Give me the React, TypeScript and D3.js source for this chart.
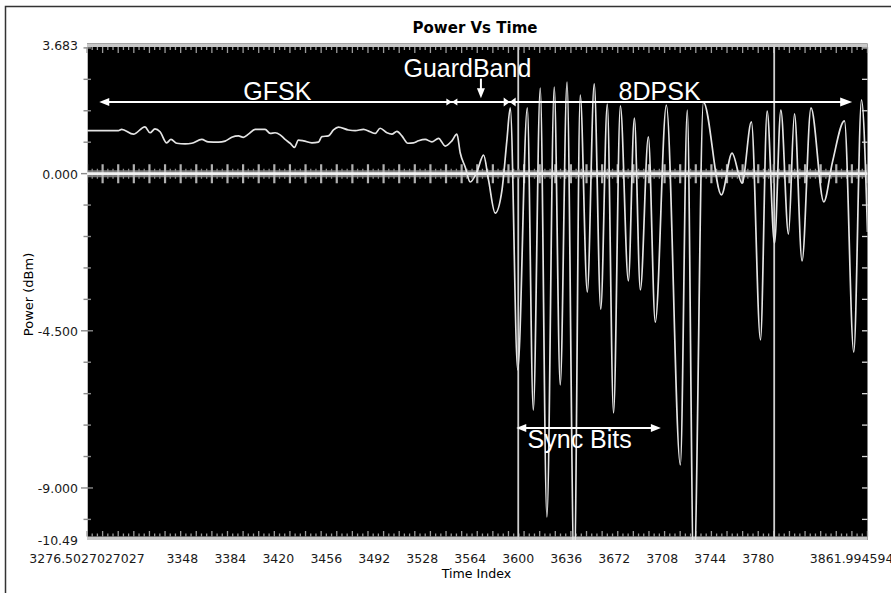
import React from 'react';
import * as d3 from 'd3';

const W = 891;
const H = 593;

const X_MIN = 3276.5027027027;
const X_MAX = 3861.9945945946;
const Y_MIN = -10.49;
const Y_MAX = 3.683;

const xTickValues = [X_MIN, 3348, 3384, 3420, 3456, 3492, 3528, 3564, 3600, 3636, 3672, 3708, 3744, 3780, X_MAX];
const xTickLabels = ['3276.5027027027', '3348', '3384', '3420', '3456', '3492', '3528', '3564', '3600', '3636', '3672', '3708', '3744', '3780', '3861.9945945946'];
const yTickValues = [Y_MAX, 0, -4.5, -9, Y_MIN];
const yTickLabels = ['3.683', '0.000', '-4.500', '-9.000', '-10.49'];

// GFSK portion
const gfskTime = [3276.5, 3300.0, 3302.5, 3311.3, 3320.0, 3323.8, 3327.5, 3331.3, 3336.3, 3339.5, 3343.8, 3350.1, 3355.1, 3362.6, 3367.5, 3375.1, 3380.1, 3385.1, 3390.1, 3393.8, 3397.6, 3402.6, 3410.1, 3413.9, 3417.6, 3421.4, 3425.1, 3428.9, 3432.1, 3435.1, 3438.9, 3445.2, 3450.1, 3452.7, 3457.6, 3461.4, 3465.1, 3472.6, 3477.7, 3483.9, 3488.9, 3492.7, 3496.4, 3501.5, 3505.2, 3509.0, 3512.7, 3517.2, 3521.4, 3525.2, 3530.2, 3535.2, 3540.2, 3545.2, 3550.2, 3554.0];
const gfskPower = [1.23, 1.23, 1.27, 1.13, 1.34, 1.17, 1.28, 1.20, 0.88, 0.98, 0.87, 0.85, 0.87, 0.98, 0.91, 0.90, 0.93, 1.04, 1.08, 1.04, 1.13, 1.27, 1.27, 1.15, 1.17, 1.11, 0.98, 0.87, 0.75, 0.96, 0.94, 0.88, 0.90, 1.06, 1.08, 1.25, 1.33, 1.25, 1.23, 1.27, 1.20, 1.15, 1.30, 1.17, 1.13, 1.21, 1.08, 0.87, 0.88, 0.94, 0.98, 0.91, 1.01, 0.79, 0.94, 1.13];

// Guard band
const guardTime = [3556.5, 3560.2, 3564.0, 3569.0, 3574.0, 3577.7, 3582.7, 3587.8, 3591.5, 3594.0];
const guardPower = [0.59, 0.19, -0.24, 0.05, 0.53, -0.18, -1.13, -0.47, 0.96, 1.88];

// 8DPSK portion
const dpskTime = [3599.6, 3606.8, 3611.3, 3616.5, 3621.5, 3627.0, 3631.5, 3636.6, 3642.0, 3646.5, 3651.8, 3657.0, 3661.9, 3666.8, 3671.5, 3676.6, 3682.6, 3687.1, 3691.6, 3697.6, 3702.8, 3711.1, 3721.6, 3726.8, 3731.7, 3738.9, 3752.4, 3760.4, 3767.9, 3774.9, 3781.7, 3786.7, 3792.2, 3797.0, 3802.7, 3807.2, 3812.9, 3819.6, 3829.2, 3835.7, 3844.7, 3851.7, 3857.5, 3862.0];
const dpskPower = [-5.62, 1.88, -6.77, 2.45, -9.83, 2.48, -6.05, 2.62, -11.5, 2.25, -3.39, 2.57, -3.88, 1.99, -6.85, 1.94, -3.07, 1.59, -3.33, 1.05, -4.25, 1.96, -8.34, 1.82, -11.6, 2.05, -0.61, 0.59, -0.27, 1.48, -4.76, 1.79, -1.99, 1.82, -1.73, 1.71, -2.50, 1.88, -0.81, 0.33, 1.51, -5.11, 2.11, -1.67];

// Cursor markers
const cursorTimes = [3600, 3792];

export default function App() {
  const left = 87, right = 867.5, top = 45, bottom = 540;
  const x = d3.scaleLinear().domain([X_MIN, X_MAX]).range([left, right]);
  const y = d3.scaleLinear().domain([Y_MIN, Y_MAX]).range([bottom, top]);

  const times = [...gfskTime, ...guardTime, ...dpskTime];
  const powers = [...gfskPower, ...guardPower, ...dpskPower];
  const data: [number, number][] = times.map((t, i) => [t, powers[i]]);
  const line = d3.line<[number, number]>().x(d => x(d[0])).y(d => y(d[1])).curve(d3.curveMonotoneX);

  const nDiv = 50, nSub = 3;
  const xGrid = d3.range(0, nDiv * nSub + 1).map(i => ({ v: X_MIN + (i * (X_MAX - X_MIN)) / (nDiv * nSub), major: i % nSub === 0 }));
  const yMinor = d3.range(-11, 5).map(i => i * 0.9).filter(v => v >= Y_MIN && v <= Y_MAX);
  const y0 = y(0);

  const tri = (tx: number, ty: number, dir: 'l' | 'r' | 'd', len: number, half: number) => {
    if (dir === 'r') return `M${tx},${ty}L${tx - len},${ty - half}L${tx - len},${ty + half}Z`;
    if (dir === 'l') return `M${tx},${ty}L${tx + len},${ty - half}L${tx + len},${ty + half}Z`;
    return `M${tx},${ty}L${tx - half},${ty - len}L${tx + half},${ty - len}Z`;
  };

  // annotation anchors in data units
  const arrowV = 2.05;
  const gfskFrom = 3285.7, gfskTo = 3550.2, guardTo = 3593.6, dpskTo = 3850.5;
  const syncFrom = 3598.5, syncTo = 3707.0, syncV = -7.28;
  const ay = y(arrowV);
  const annFont = "'Liberation Sans', Arial, sans-serif";
  const tickFont = "'DejaVu Sans', Verdana, sans-serif";

  return (
    <svg width={W} height={H} style={{ position: 'absolute', left: 0, top: 0, background: '#fff' }}>
      <defs>
        <clipPath id="plotClip">
          <rect x={left} y={top - 1} width={right - left} height={bottom - top + 1} />
        </clipPath>
      </defs>
      <rect x={5.5} y={6.5} width={900} height={600} fill="#fff" stroke="#333" strokeWidth={1.5} />
      <text x={475} y={33} textAnchor="middle" fontFamily={tickFont} fontWeight="bold" fontSize={15} fill="#000">Power Vs Time</text>

      <rect x={left} y={top - 1.5} width={right - left} height={bottom - top + 1.5} fill="#000" />

      {/* left axis ticks */}
      <line x1={left + 0.5} x2={left + 0.5} y1={top} y2={bottom} stroke="#bbb" strokeWidth={1} />
      {yMinor.map((v, i) => {
        const major = Math.abs(v % 4.5) < 1e-6 || Math.abs(Math.abs(v % 4.5) - 4.5) < 1e-6;
        return <line key={'yl' + i} x1={major ? 81 : 83.5} x2={major ? 93 : 91} y1={y(v)} y2={y(v)} stroke="#8a8a8a" strokeWidth={1.4} />;
      })}
      {/* right axis ticks */}
      {yMinor.map((v, i) => (
        <line key={'yr' + i} x1={right - 5.5} x2={right} y1={y(v)} y2={y(v)} stroke="#d8d8d8" strokeWidth={1.3} />
      ))}

      {/* top and bottom bands */}
      <rect x={left} y={top - 1.5} width={right - left} height={3.5} fill="#c8c8c8" />
      <rect x={left} y={bottom - 3.5} width={right - left} height={3.5} fill="#c8c8c8" />
      {xGrid.map((g, i) => (
        <g key={'xg' + i}>
          <line x1={x(g.v)} x2={x(g.v)} y1={top + 2} y2={top + (g.major ? 8 : 5)} stroke="#9a9a9a" strokeWidth={1.3} />
          <line x1={x(g.v)} x2={x(g.v)} y1={bottom - 3.5} y2={bottom - (g.major ? 9 : 6.5)} stroke="#9a9a9a" strokeWidth={1.3} />
        </g>
      ))}

      {/* cursors */}
      {cursorTimes.map((t, i) => (
        <line key={'c' + i} x1={x(t)} x2={x(t)} y1={top} y2={bottom} stroke="#cfcfcf" strokeWidth={1.8} />
      ))}

      {/* zero axis */}
      <g clipPath="url(#plotClip)">
        <line x1={left} x2={right} y1={y0} y2={y0} stroke="#7a7a7a" strokeWidth={7} />
        {xGrid.map((g, i) => (
          <line key={'z' + i} x1={x(g.v)} x2={x(g.v)} y1={y0 - (g.major ? 9.5 : 5)} y2={y0 + (g.major ? 9.5 : 5)} stroke={g.major ? '#b0b0b0' : '#8a8a8a'} strokeWidth={g.major ? 2.2 : 1.3} />
        ))}
        <line x1={left} x2={right} y1={y0} y2={y0} stroke="#f2f2f2" strokeWidth={2.6} />
      </g>

      {/* signal */}
      <path d={line(data) || ''} clipPath="url(#plotClip)" fill="none" stroke="#e4e4e4" strokeWidth={1.7} strokeLinejoin="round" />

      {/* annotations */}
      <g fill="#fff" stroke="none">
        <line x1={x(gfskFrom) + 4} x2={x(dpskTo) - 4} y1={ay} y2={ay} stroke="#fff" strokeWidth={2} />
        <path d={tri(x(gfskFrom), ay, 'l', 10, 4)} />
        <path d={tri(x(gfskTo), ay, 'r', 5.5, 3.5)} />
        <path d={tri(x(gfskTo), ay, 'l', 5.5, 3.5)} />
        <path d={tri(x(guardTo), ay, 'r', 6, 4.5)} />
        <path d={tri(x(guardTo), ay, 'l', 6, 4.5)} />
        <path d={tri(x(dpskTo), ay, 'r', 12, 4.5)} />
        <line x1={x(3572.0)} x2={x(3572.0)} y1={y(2.72)} y2={y(2.16) - 5} stroke="#fff" strokeWidth={2} />
        <path d={tri(x(3572.0), y(2.16), 'd', 10, 4)} />
        <line x1={x(syncFrom) + 4} x2={x(syncTo) - 4} y1={y(syncV)} y2={y(syncV)} stroke="#fff" strokeWidth={2} />
        <path d={tri(x(syncFrom), y(syncV), 'l', 10, 4)} />
        <path d={tri(x(syncTo), y(syncV), 'r', 10, 4)} />
        <text x={x(3393.8)} y={y(2.12)} fontFamily={annFont} fontSize={25}>GFSK</text>
        <text x={x(3513.9)} y={y(2.77)} fontFamily={annFont} fontSize={25}>GuardBand</text>
        <text x={x(3675.3)} y={y(2.10)} fontFamily={annFont} fontSize={25}>8DPSK</text>
        <text x={x(3607.0)} y={y(-7.85)} fontFamily={annFont} fontSize={25}>Sync Bits</text>
      </g>

      {/* y tick labels */}
      {yTickValues.map((v, i) => (
        <text key={'yt' + i} x={78} y={y(v) + 5} textAnchor="end" fontFamily={tickFont} fontSize={12.5} fill="#1a1a1a">{yTickLabels[i]}</text>
      ))}
      {/* x tick labels */}
      {xTickValues.map((v, i) => (
        <text key={'xt' + i} x={x(v)} y={563} textAnchor="middle" fontFamily={tickFont} fontSize={12.5} fill="#1a1a1a">{xTickLabels[i]}</text>
      ))}

      <text x={476.5} y={578} textAnchor="middle" fontFamily={tickFont} fontSize={12.6} fill="#000">Time Index</text>
      <text transform="translate(32.5,294.5) rotate(-90)" textAnchor="middle" fontFamily={tickFont} fontSize={13} fill="#000">Power (dBm)</text>
    </svg>
  );
}
